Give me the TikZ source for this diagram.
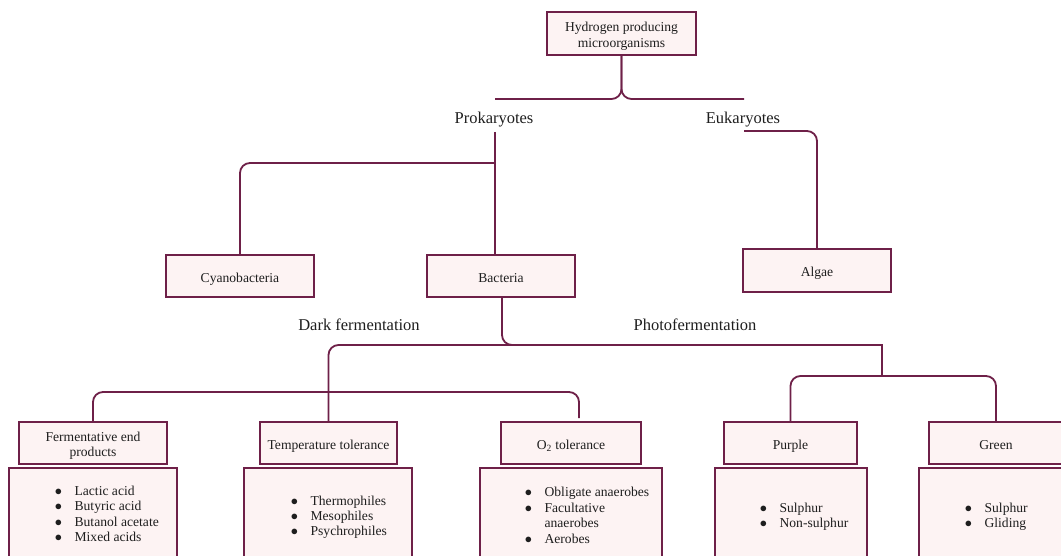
\documentclass[tikz,border=0pt]{standalone}
\usepackage{fontspec}
\setmainfont{Liberation Serif}
\definecolor{bord}{RGB}{110,32,72}
\definecolor{boxfill}{RGB}{253,243,243}
\definecolor{txt}{RGB}{30,30,30}
\tikzset{
  box/.style={draw=bord, fill=boxfill, line width=1.8pt, inner sep=0pt, text=txt,
    font=\fontsize{13.6}{15.5}\selectfont},
  lowbox/.style={draw=bord, fill=boxfill, line width=1.8pt, inner sep=0pt, anchor=north},
  lbl/.style={text=txt, font=\fontsize{16.5}{19}\selectfont, inner sep=0pt},
  lst/.style={text=txt, font=\fontsize{13.6}{15.4}\selectfont, inner sep=0pt, anchor=west},
  conn/.style={draw=bord, line width=1.8pt},
  rc/.style={rounded corners=10pt}
}
\newcommand{\bl}{$\bullet$}
\newcommand{\bt}[1]{\raisebox{-3pt}[\height][\depth]{\begin{tabular}{@{}c@{}}#1\end{tabular}}}
\newcommand{\blist}[1]{\begin{tabular}{@{}l@{\hspace{12.6pt}}l@{}}#1\end{tabular}}
\begin{document}
\begin{tikzpicture}[x=1pt,y=-1pt]
\useasboundingbox (0,0) rectangle (1061,556);
\clip (0,0) rectangle (1061,556);

% top
\node[box, minimum width=149, minimum height=43] (h2) at (621.5,33.5) {\bt{Hydrogen producing\\microorganisms}};
\node[lbl] (pro) at (494,119.5) {Prokaryotes};
\node[lbl] (euk) at (743,119.5) {Eukaryotes};
\coordinate (pl) at (495,99);
\coordinate (pr) at (744,99);
\draw[conn, rc] (pl) -- (h2.south |- pl) -- (h2.south);
\draw[conn, rc] (pr) -- (h2.south |- pr) -- (h2.south);

% second level
\node[box, minimum width=148, minimum height=42] (cya) at (240,276) {\bt{Cyanobacteria}};
\node[box, minimum width=148, minimum height=42] (bac) at (501,276) {\bt{Bacteria}};
\node[box, minimum width=148, minimum height=43] (alg) at (817,270.5) {\bt{Algae}};
\coordinate (pd) at (495,132);
\coordinate (pb) at (495,255);
\coordinate (ph) at (495,163);
\draw[conn] (pd) -- (pb);
\draw[conn, rc] (ph) -- (cya.north |- ph) -- (cya.north);
\coordinate (ek) at (744,131);
\draw[conn, rc] (ek) -- (alg.north |- ek) -- (alg.north);

\node[lbl] (dark) at (359,324.5) {Dark fermentation};
\node[lbl] (photo) at (695,324.5) {Photofermentation};

% third level boxes
\node[box, minimum width=148, minimum height=42] (fer) at (93,443) {\bt{Fermentative end\\products}};
\node[box, minimum width=137, minimum height=42] (tem) at (328.5,443) {\bt{Temperature tolerance}};
\node[box, minimum width=140, minimum height=42] (oxy) at (571,443) {\bt{O\textsubscript{2} tolerance}};
\node[box, minimum width=133, minimum height=42] (pur) at (790.5,443) {\bt{Purple}};
\node[box, minimum width=134, minimum height=42] (gre) at (996,443) {\bt{Green}};

\node[lowbox, minimum width=168, minimum height=130] (ferl) at (93,467) {};
\node[lowbox, minimum width=168, minimum height=130] (teml) at (328,467) {};
\node[lowbox, minimum width=182, minimum height=130] (oxyl) at (571,467) {};
\node[lowbox, minimum width=152, minimum height=130] (purl) at (791,467) {};
\node[lowbox, minimum width=154, minimum height=130] (grel) at (996,467) {};

\node[lst] (ferlist) at (54.6,515.5) {\blist{\bl & Lactic acid\\ \bl & Butyric acid\\ \bl & Butanol acetate\\ \bl & Mixed acids}};
\node[lst] (temlist) at (290.6,517.5) {\blist{\bl & Thermophiles\\ \bl & Mesophiles\\ \bl & Psychrophiles}};
\node[lst] (oxylist) at (524.6,517) {\blist{\bl & Obligate anaerobes\\ \bl & Facultative\\ & anaerobes\\ \bl & Aerobes}};
\node[lst] (purlist) at (759.6,517) {\blist{\bl & Sulphur\\ \bl & Non-sulphur}};
\node[lst] (grelist) at (964.6,517) {\blist{\bl & Sulphur\\ \bl & Gliding}};

% bacteria connectors
\coordinate (b1) at (502,345);
\coordinate (hl) at (328.5,345);
\coordinate (hr) at (882,345);
\coordinate (hp) at (882,376);
\draw[conn, rc] ([xshift=1pt]bac.south) -- (b1) -- (560,345);
\draw[conn, rc] (520,345) -- (hl) -- (tem.north);
\draw[conn] (540,345) -- (hr) -- (hp);
\coordinate (dl) at (93,392);
\coordinate (dr) at (579,392);
\draw[conn, rc] (fer.north) -- (dl) -- (dr) -- (579,418);
\draw[conn, rc] (pur.north) -- (pur.north |- hp) -- (gre.north |- hp) -- (gre.north);
\end{tikzpicture}
\end{document}
